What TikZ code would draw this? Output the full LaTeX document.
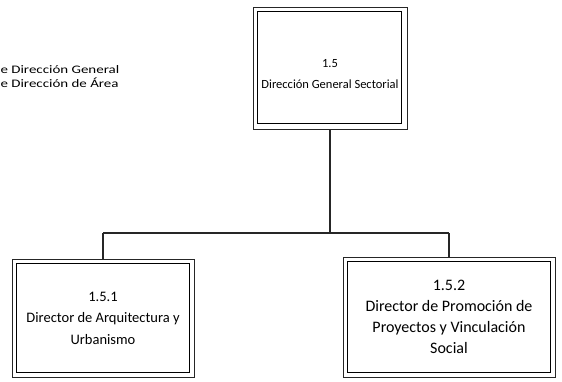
\documentclass[tikz,border=0pt]{standalone}
\usepackage{fontspec}
\setmainfont{Carlito}
\newfontfamily\legendfont[FakeStretch=1.3]{Carlito}
\begin{document}
\begin{tikzpicture}[x=1pt,y=-1pt,
  orgbox/.style={draw=black!85, line width=0.6pt, inner sep=0pt, align=center},
  inner/.style={draw=black, line width=1.1pt},
  conn/.style={draw=black!85, line width=1.6pt},
  boxtext/.style={align=center, inner sep=0pt},
  legend/.style={anchor=west, font=\legendfont\fontsize{11.5}{13}\selectfont, inner sep=0pt}]
\useasboundingbox (0,0) rectangle (562,381);
\clip (0,0) rectangle (562,381);
% top box
\node[orgbox, minimum width=154pt, minimum height=122pt] (top) at (330,68) {};
\draw[inner] ([shift={(5,5)}]top.north west) rectangle ([shift={(-6,-6)}]top.south east);
\node[boxtext, font=\fontsize{12.5}{21.5}\selectfont] (toptext) at (330,74) {1.5\\Dirección General Sectorial};
% left box
\node[orgbox, minimum width=182pt, minimum height=118pt, font=\fontsize{14.5}{21.5}\selectfont] (l) at (103,318) {1.5.1\\Director de Arquitectura y\\Urbanismo};
\draw[inner] ([shift={(5,5)}]l.north west) rectangle ([shift={(-5,-5)}]l.south east);
% right box
\node[orgbox, minimum width=212pt, minimum height=120pt, font=\fontsize{16}{21}\selectfont] (r) at (449,317) {1.5.2\\Director de Promoción de\\Proyectos y Vinculación\\Social};
\draw[inner] ([shift={(5,5)}]r.north west) rectangle ([shift={(-5,-5)}]r.south east);
% connectors
\coordinate (j) at (top.south |- 0,233);
\draw[conn] (top.south) -- (j);
\draw[conn] (j -| l.north) -- (j -| r.north);
\draw[conn] (j -| l.north) -- (l.north);
\draw[conn] (j -| r.north) -- (r.north);
% legend (clipped at the left edge)
\node[legend] (lg1) at (-7.5,70) {de Dirección General};
\node[legend] (lg2) at (-7.5,83) {de Dirección de Área};
\end{tikzpicture}
\end{document}
